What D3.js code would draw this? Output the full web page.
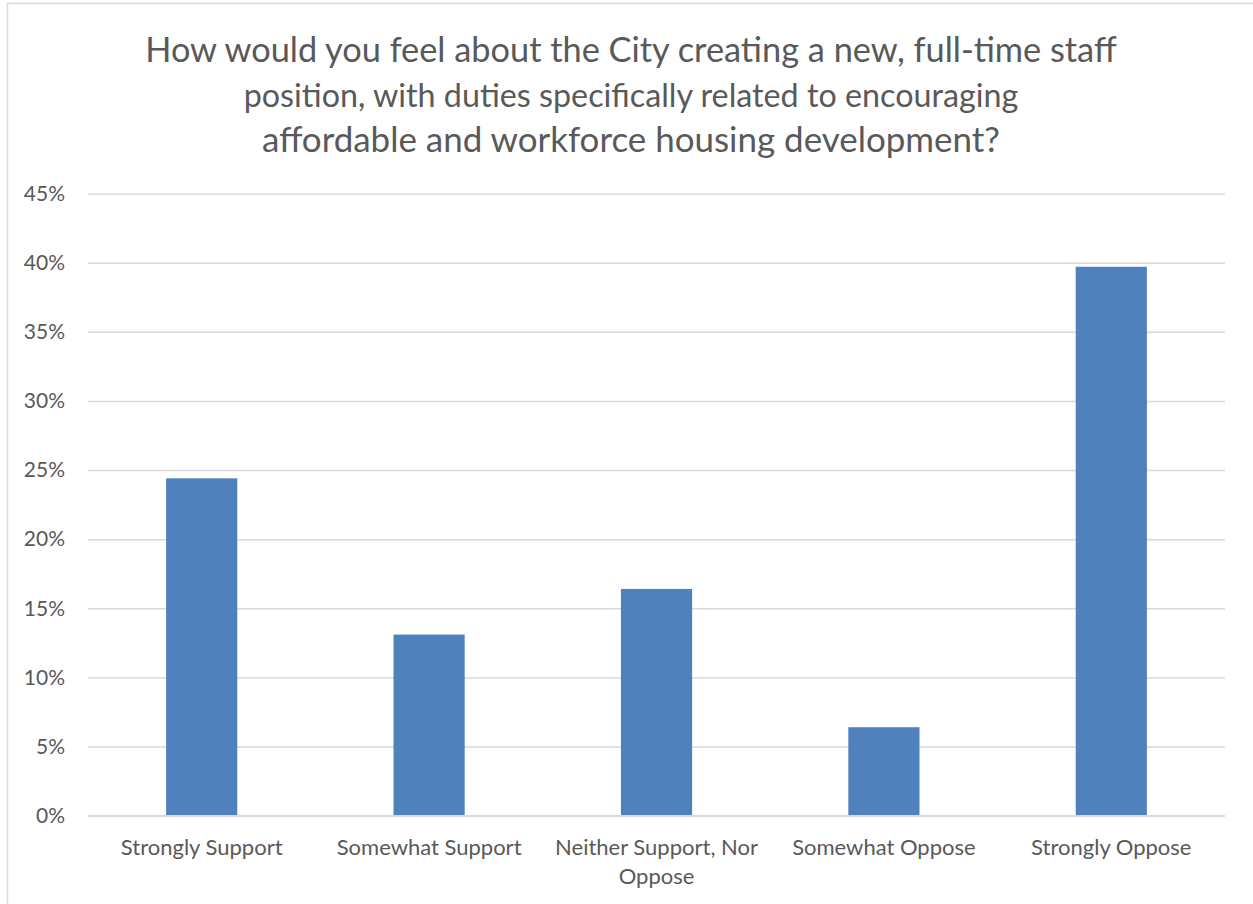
<!DOCTYPE html>
<html>
<head>
<meta charset="utf-8">
<script src="https://cdn.jsdelivr.net/npm/d3@7"></script>
<style>
  html, body { margin: 0; padding: 0; background: #fff; }
  svg { display: block; }
</style>
</head>
<body>
<svg id="chart" width="1253" height="904"></svg>
<script>
// Survey responses and share of respondents
const categories = ["Strongly Support", "Somewhat Support", "Neither Support, Nor Oppose", "Somewhat Oppose", "Strongly Oppose"];
const values = [0.244, 0.131, 0.164, 0.064, 0.397];
const yTicks = [0, 0.05, 0.10, 0.15, 0.20, 0.25, 0.30, 0.35, 0.40, 0.45];
const titleLines = [
  "How would you feel about the City creating a new, full-time staff",
  "position, with duties specifically related to encouraging",
  "affordable and workforce housing development?"
];

const FONT = "Lato, 'Open Sans', sans-serif";
const TEXT = "#595959";
const svg = d3.select("#chart");

// chart frame
svg.append("rect")
  .attr("x", 7.5).attr("y", 3.5)
  .attr("width", 1260).attr("height", 920)
  .attr("fill", "none").attr("stroke", "#d9d9d9").attr("stroke-width", 1.5);

const plot = { left: 88, right: 1225, top: 193.5, bottom: 815.7 };

const x = d3.scaleBand()
  .domain(categories)
  .range([plot.left, plot.right])
  .paddingInner(0.687)
  .paddingOuter(0.3435);

const y = d3.scaleLinear()
  .domain([0, 0.45])
  .range([plot.bottom, plot.top]);

// title, one line per row, fitted to width
const titleWidths = [972, 775, 738];
const titleY = [48, 94, 138];
const title = svg.append("g");
titleLines.forEach((t, i) => {
  const el = title.append("text")
    .attr("x", 631).attr("y", titleY[i])
    .attr("text-anchor", "middle")
    .attr("dominant-baseline", "central")
    .attr("font-family", FONT)
    .attr("font-size", 31)
    .attr("fill", TEXT)
    .text(t);
  const w = el.node().getComputedTextLength();
  el.attr("font-size", 31 * titleWidths[i] / w);
});

// gridlines and y labels
const yAxis = d3.axisLeft(y)
  .tickValues(yTicks)
  .tickFormat(d3.format(".0%"))
  .tickSize(-(plot.right - plot.left))
  .tickPadding(23);

const gy = svg.append("g")
  .attr("transform", `translate(${plot.left},0)`)
  .call(yAxis);
gy.select(".domain").remove();
gy.selectAll(".tick line").attr("stroke", "#d9d9d9").attr("stroke-width", 1.5);
gy.selectAll(".tick text")
  .attr("font-family", FONT).attr("font-size", 21).attr("fill", TEXT);

// bars
svg.append("g").selectAll("rect")
  .data(categories.map((c, i) => ({ c, v: values[i] })))
  .join("rect")
  .attr("x", d => x(d.c))
  .attr("y", d => y(d.v))
  .attr("width", x.bandwidth())
  .attr("height", d => y(0) - y(d.v))
  .attr("fill", "#4f81bd");

// baseline
svg.append("line")
  .attr("x1", plot.left).attr("x2", plot.right)
  .attr("y1", y(0)).attr("y2", y(0))
  .attr("stroke", "#d9d9d9").attr("stroke-width", 1.5);

// category labels, wrapped to the band slot
const xAxis = d3.axisBottom(x).tickSize(0).tickPadding(0);
const gx = svg.append("g")
  .attr("transform", `translate(0,${plot.bottom})`)
  .call(xAxis);
gx.select(".domain").remove();
gx.selectAll(".tick text").remove();
gx.selectAll(".tick").each(function(d) {
  const lines = d === "Neither Support, Nor Oppose" ? ["Neither Support, Nor", "Oppose"] : [d];
  const t = d3.select(this).append("text")
    .attr("text-anchor", "middle")
    .attr("font-family", FONT).attr("font-size", 22).attr("fill", TEXT);
  lines.forEach((l, i) => {
    t.append("tspan").attr("x", 0).attr("y", 39 + i * 29).text(l);
  });
});
</script>
</body>
</html>
